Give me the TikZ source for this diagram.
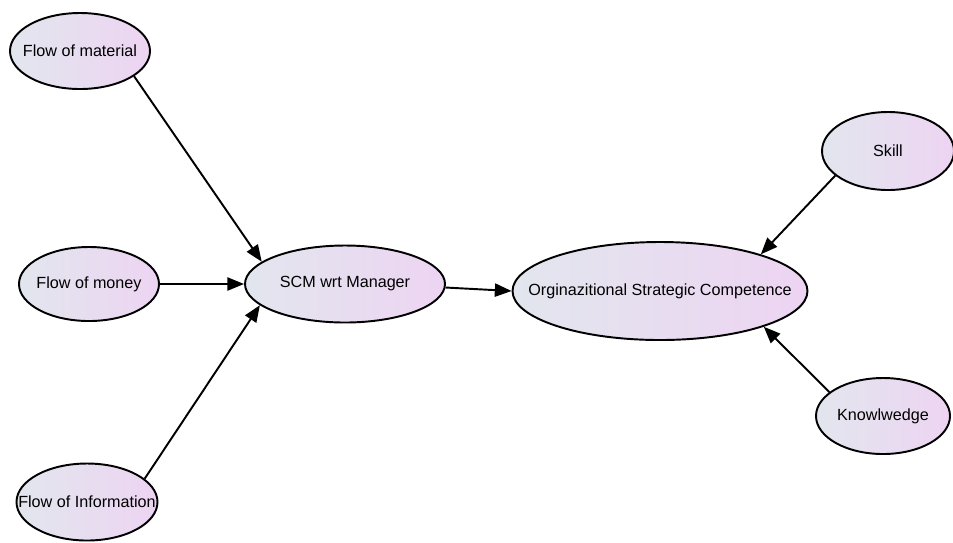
\documentclass[tikz,border=0pt]{standalone}
\usepackage{fontspec}
\setmainfont{Liberation Sans}
\usetikzlibrary{shapes.geometric,arrows.meta}
\definecolor{bubleft}{RGB}{226,230,238}
\definecolor{bubright}{RGB}{237,212,242}
\tikzset{
	bubble/.style={ellipse, draw=black, line width=1.1pt, inner sep=0pt,
		left color=bubleft, right color=bubright},
	link/.style={line width=1.1pt, -{Triangle[length=9.5pt, width=7.5pt]}}
}

\begin{document}
\begin{tikzpicture}[font=\fontsize{9.2}{10}\selectfont]
		%%%%% START %%%%%
		\useasboundingbox (0, 0) rectangle (19.06, -10.84);
		
		\node[bubble, minimum width=2.8cm, minimum height=1.52cm, label={center:Flow of material}] (material) at (1.6, -1.02) {};
		\node[bubble, minimum width=2.8cm, minimum height=1.48cm, label={center:Flow of money}] (money) at (1.78, -5.68) {};
		\node[bubble, minimum width=2.82cm, minimum height=1.54cm, label={center:Flow of Information}] (info) at (1.74, -10.04) {};
		
		\node[bubble, minimum width=4.0cm, minimum height=1.54cm, label={center:SCM wrt Manager}] (scm) at (6.9, -5.68) {};
		\node[bubble, minimum width=5.9cm, minimum height=1.96cm, label={center:Orginazitional Strategic Competence}] (osc) at (13.2, -5.82) {};
		
		\node[bubble, minimum width=2.64cm, minimum height=1.56cm, label={center:Skill}] (skill) at (17.76, -3.02) {};
		\node[bubble, minimum width=2.68cm, minimum height=1.52cm, label={center:Knowlwedge}] (know) at (17.66, -8.32) {};
		
		\draw[link] (material.-25) -- (scm.165);
		\draw[link] (money) -- (scm);
		\draw[link] (info.22) -- (scm.-166);
		\draw[link] (scm.-2) -- (osc.180);
		\draw[link] (skill.205) -- (osc.20);
		\draw[link] (know.156) -- (osc.-19);
		%%%%% END %%%%%
\end{tikzpicture}
\end{document}
